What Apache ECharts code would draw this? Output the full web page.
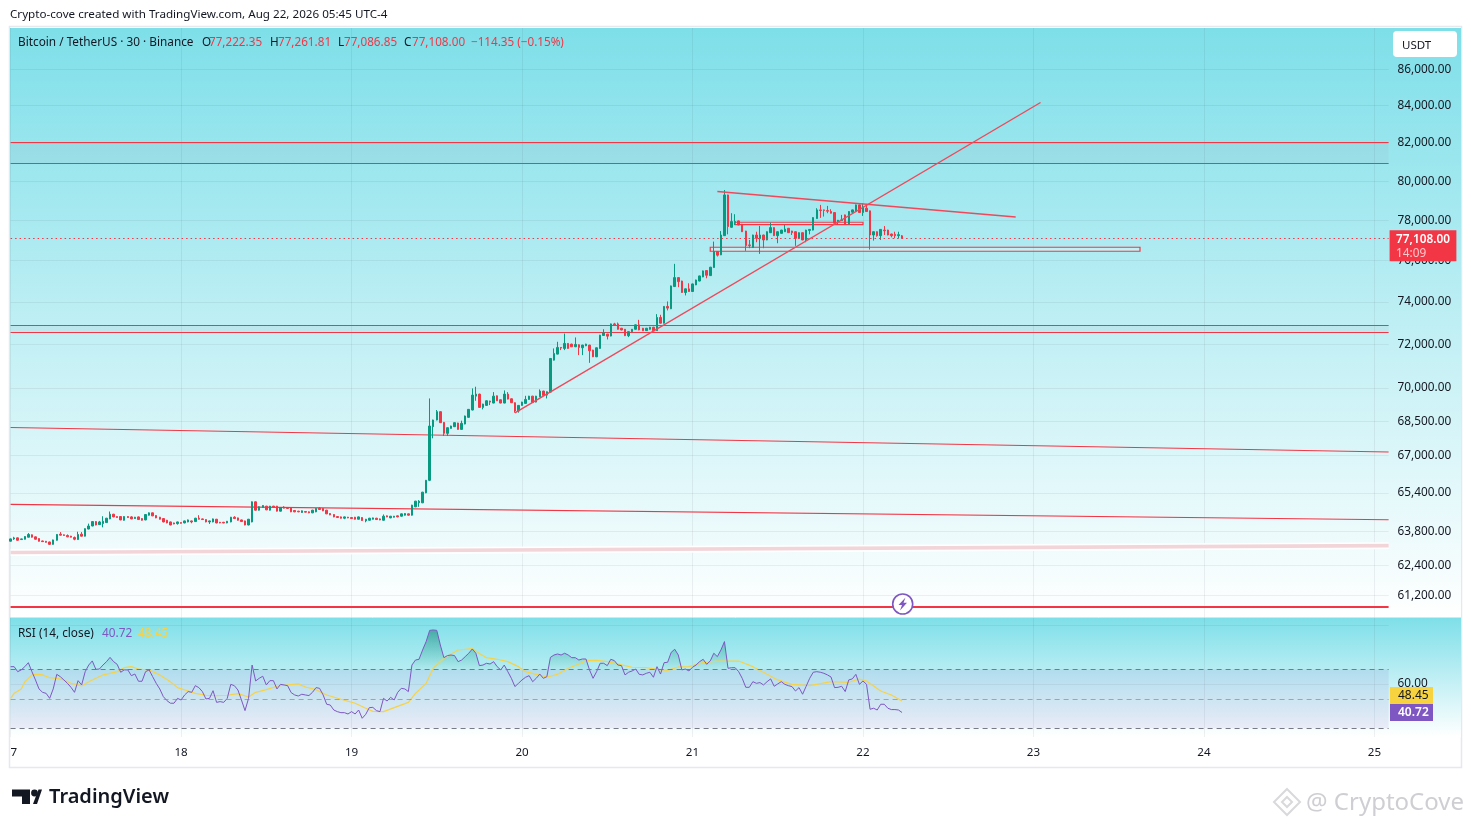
<!DOCTYPE html>
<html><head><meta charset="utf-8">
<style>html,body{margin:0;padding:0;background:#fff}#c{width:1471px;height:827px}</style>
<script src="https://cdn.jsdelivr.net/npm/echarts@6/dist/echarts.min.js"></script>
</head><body><div id="c"></div>
<script>
// ---------- values ----------
const dayLabels=['7','18','19','20','21','22','23','24','25'];
const barsPerDay=48;
const priceTicks=[86000,84000,82000,80000,78000,76000,74000,72000,70000,68500,67000,65400,63800,62400,61200];
const priceMin=60340, priceMax=88326;
const rsiMin=24.1, rsiMax=104.8;
const rsiTicks=[100,60];
const rsiLevels=[70,50,30];
const lastClose=77108.00;
// open, close, low, high of each 30 minute bar
const candles=[
[63390,63485,63375,63500],[63485,63525,63445,63570],[63527,63429,63415,63540],[63457,63485,63445,63495],[63471,63583,63460,63595],[63555,63667,63545,63723],
[63653,63555,63540,63665],[63569,63471,63460,63580],[63499,63387,63375,63510],[63401,63373,63360,63415],[63387,63345,63335,63400],[63359,63261,63250,63370],
[63261,63443,63250,63455],[63429,63667,63415,63680],[63681,63639,63625,63765],[63653,63625,63615,63665],[63625,63569,63555,63667],[63597,63555,63545,63610],
[63541,63471,63429,63583],[63457,63667,63445,63779],[63681,63597,63585,63765],[63597,63905,63585,63920],[63891,64017,63880,64115],[64017,64199,64005,64215],
[64199,64059,64045,64215],[64073,64185,64060,64227],[64115,64213,63961,64423],[64157,64339,64145,64355],[64311,64507,64300,64619],[64507,64395,64380,64520],
[64409,64367,64355,64420],[64409,64269,64255,64420],[64255,64409,64240,64420],[64409,64367,64355,64420],[64395,64311,64300,64423],[64325,64381,64310,64395],
[64395,64283,64270,64410],[64325,64255,64240,64340],[64269,64493,64255,64505],[64465,64563,64450,64580],[64563,64437,64425,64575],[64451,64353,64340,64465],
[64381,64297,64285,64395],[64325,64185,64170,64340],[64255,64143,64130,64270],[64185,64059,64045,64200],[64143,64101,64090,64155],[64115,64185,64073,64199],
[64157,64129,64115,64170],[64143,64227,64130,64240],[64185,64269,64170,64285],[64227,64185,64129,64240],[64199,64339,64185,64355],[64339,64297,64285,64465],
[64311,64283,64270,64325],[64283,64185,64170,64295],[64185,64227,64101,64240],[64185,64311,64170,64325],[64297,64143,64130,64310],[64171,64143,64130,64185],
[64171,64143,64130,64185],[64143,64213,64130,64225],[64185,64381,64170,64395],[64381,64325,64310,64423],[64353,64255,64240,64365],[64269,64199,64185,64280],
[64227,64059,64045,64240],[64059,64297,64045,64310],[64185,65025,64170,65040],[65025,64675,64660,65040],[64675,64815,64660,64830],[64787,64871,64775,64885],
[64843,64689,64675,64855],[64675,64843,64660,64855],[64843,64801,64790,64855],[64843,64633,64620,64855],[64633,64787,64620,64800],[64801,64759,64745,64840],
[64787,64745,64730,64800],[64787,64605,64590,64800],[64661,64605,64590,64675],[64633,64605,64590,64645],[64577,64647,64565,64660],[64619,64591,64580,64630],
[64605,64563,64550,64620],[64563,64675,64550,64690],[64605,64745,64590,64760],[64759,64703,64690,64800],[64745,64647,64635,64760],[64675,64521,64510,64690],
[64535,64479,64465,64550],[64493,64395,64380,64505],[64409,64367,64355,64420],[64395,64339,64325,64410],[64339,64395,64300,64410],[64381,64353,64340,64395],
[64367,64325,64310,64380],[64381,64297,64285,64395],[64297,64395,64285,64410],[64367,64241,64230,64380],[64227,64297,64171,64310],[64255,64339,64240,64355],
[64297,64353,64285,64365],[64339,64283,64270,64355],[64311,64269,64255,64325],[64255,64423,64240,64495],[64437,64395,64380,64450],[64353,64423,64340,64435],
[64381,64423,64370,64435],[64437,64395,64380,64450],[64423,64521,64410,64535],[64465,64535,64450,64550],[64521,64465,64450,64535],[64465,64885,64450,64900],
[64815,65053,64800,65065],[64983,65053,64815,65095],[64983,65431,64970,65445],[65403,65935,65390,65950],[65935,68290,65900,69518],[68260,68556,67750,68570],
[68556,68926,68540,69000],[68926,68438,68425,68940],[68452,67967,67850,68465],[67967,68216,67850,68230],[68186,68290,68175,68305],[68260,68438,68245,68450],
[68423,68142,68130,68435],[68142,68408,68130,68526],[68378,68734,68365,68750],[68674,69030,68660,69045],[69000,69668,68985,69970],[69622,69713,69414,70046],
[69713,69118,69105,69730],[69118,69266,69030,69280],[69207,69414,69195,69430],[69400,69355,69222,69415],[69311,69622,69300,69804],[69637,69414,69400,69650],
[69459,69311,69300,69470],[69311,69713,69300,69880],[69713,69488,69475,69804],[69503,69326,69315,69515],[69326,68956,68882,69340],[68956,69207,68882,69220],
[69207,69355,69195,69370],[69296,69474,69285,69637],[69474,69622,69460,69635],[69622,69340,69325,69635],[69355,69622,69340,69635],[69592,69850,69580,69925],
[69850,69653,69640,69865],[69668,69820,69518,69835],[69804,71338,69790,71355],[71261,71570,71245,71802],[71539,71849,71525,72111],[71849,71818,71725,71865],
[71802,72034,71725,72498],[72034,71802,71790,72050],[72003,71880,71865,72020],[71880,71988,71865,72313],[71972,71849,71492,71990],[71833,71957,71492,71970],
[71926,72003,71910,72020],[71957,71694,71137,71970],[71725,71415,71400,71740],[71415,71833,71400,71850],[71802,72421,71790,72435],[72405,72529,72390,72700],
[72467,72375,72220,72480],[72380,72950,72365,72965],[72950,72905,72890,73000],[72950,72697,72680,73015],[72745,72665,72650,72760],[72697,72395,72380,72710],
[72395,72586,72330,72600],[72586,72697,72570,72710],[72697,72905,72680,72920],[72905,72665,72650,73142],[72745,72633,72620,72760],[72633,72745,72620,72760],
[72697,72792,72680,72810],[72792,72633,72620,72810],[72633,73253,72620,73412],[73253,72983,72970,73380],[72983,73778,72970,73795],[73778,73698,73587,74017],
[73667,74764,73650,74780],[74732,75165,74715,75837],[75165,74971,74700,75180],[75000,74446,74430,75015],[74446,74621,74303,74635],[74621,74494,74480,74891],
[74494,74859,74480,74875],[74812,75050,74800,75065],[75000,75247,74985,75260],[75198,75493,75185,75510],[75509,75280,75132,75525],[75263,75673,75250,75690],
[75657,76444,75645,76936],[76444,76264,76198,76460],[76280,77264,76265,77461],[77232,79290,77220,79543],[79290,77684,77297,79305],[77650,77938,77635,78360],
[77904,77938,77769,78310],[77972,77769,77755,77990],[77803,77428,77415,77820],[77461,76739,76477,77475],[76772,76739,76608,77018],[76641,77264,76630,77280],
[77264,77100,76903,77428],[77084,77264,76329,77722],[77264,77018,76608,77280],[77018,77428,77005,77445],[77379,77634,77365,77887],[77634,77231,77215,77650],
[77231,77428,76854,77445],[77346,77510,77330,77525],[77428,77560,77415,77769],[77600,77379,77365,77615],[77461,77379,77264,77475],[77428,77100,76723,77445],
[77100,77379,77085,77395],[77379,77018,77005,77395],[77018,77510,76903,77525],[77494,77544,77297,77560],[77510,78140,77495,78155],[78090,78529,78075,78614],
[78529,78496,78124,78783],[78529,78496,78191,78545],[78496,78462,78360,78732],[78445,78360,78345,78563],[78394,77853,77840,78410],[77955,78005,77769,78020],
[77988,78022,77970,78276],[78276,77803,77790,78290],[77820,78445,77805,78460],[78412,78529,78360,78545],[78445,78783,78430,78800],[78783,78394,78380,78800],
[78394,78664,78225,78867],[78614,78445,78430,78833],[78479,77264,76541,78495],[77264,77428,76985,77445],[77428,77231,77182,77445],[77231,77544,77018,77560],
[77510,77477,77264,77712],[77510,77264,77250,77525],[77313,77231,77149,77330],[77297,77231,77100,77428],[77231,77281,77100,77428],[77222.35,77108,77086.85,77261.81]
];
const rsi=[
71.8,71.8,68.4,69.6,71.8,74.5,68.4,62.8,56.7,54.4,53.7,50.3,56.7,66.6,65.0,62.8,60.5,57.8,54.4,62.3,59.4,68.4,72.9,75.7,70.0,70.2,72.9,75.2,78.1,75.2,
73.4,68.0,69.6,69.6,65.7,66.8,61.9,61.9,68.4,69.6,65.0,60.5,56.7,51.5,48.8,47.0,47.0,50.3,49.2,52.6,54.9,54.4,58.9,57.6,54.9,49.9,50.3,55.5,47.6,48.1,
47.6,50.3,59.8,58.9,56.0,49.2,42.0,50.3,72.9,62.1,63.9,65.3,59.4,62.3,62.3,56.7,59.8,59.4,58.9,54.2,52.6,51.9,53.1,52.6,52.2,54.4,57.6,57.1,52.6,46.3,
45.8,42.4,41.3,40.6,40.6,39.7,41.3,39.7,42.4,36.8,39.5,44.0,44.2,42.0,41.3,50.3,48.5,51.0,49.2,54.4,57.1,56.7,54.9,72.9,76.3,76.8,83.1,88.8,96.4,96.7,
96.4,86.5,77.9,79.3,79.7,79.3,75.2,76.3,78.6,80.9,83.8,80.9,72.5,72.9,74.1,73.6,75.2,71.8,69.6,72.9,68.4,63.9,58.3,60.5,62.8,64.6,65.7,61.6,63.9,66.8,
63.9,65.0,78.1,79.7,80.4,79.7,80.9,79.7,77.9,77.9,76.3,77.0,77.0,69.6,63.9,68.4,74.1,74.1,72.5,76.8,75.9,72.9,72.5,66.2,68.0,68.9,70.2,66.6,66.2,67.3,
68.0,64.6,71.8,66.8,74.5,74.8,81.5,83.6,79.7,69.6,70.2,68.9,71.4,72.9,75.2,76.8,73.4,75.7,80.9,78.6,83.1,88.8,70.7,71.1,71.1,68.4,63.9,57.8,57.8,61.6,
60.5,61.0,59.4,61.6,63.5,58.5,60.1,61.6,59.8,58.9,58.3,55.3,57.6,53.1,58.5,63.9,68.0,68.4,68.0,67.3,66.2,64.8,57.6,57.8,58.5,54.9,62.8,63.5,66.6,59.8,
62.1,59.8,42.9,43.6,42.4,46.3,46.3,43.6,42.7,42.7,42.4,40.72
];
// [bar, value] pairs read along the yellow average
const rsiMA=[
[0,50.3],[1,53.7],[3,56.7],[4,61.6],[6,66.2],[8,66.6],[9,66.2],[11,64.3],[13,63.9],[15,62.8],[17,60.5],[19,59.4],[20,58.7],[22,61.6],[24,63.9],[26,66.2],[28,67.3],[30,68.4],[32,71.1],[34,71.8],
[36,70.2],[39,69.5],[42,66.2],[45,61.6],[47,57.6],[50,55.3],[52,53.7],[55,52.4],[58,52.1],[61,52.4],[64,53.5],[67,51.2],[69,54.4],[72,56.2],[75,58.5],[77,59.2],[81,60.1],[83,58.0],[86,56.2],[89,52.6],
[93,49.7],[97,47.0],[100,43.6],[102,41.5],[105,41.3],[108,44.0],[112,47.6],[114,53.7],[117,60.5],[119,70.7],[122,77.5],[126,83.1],[130,84.0],[132,80.8],[134,77.9],[137,76.8],[140,75.2],[143,71.8],[145,68.4],[148,66.6],
[151,64.8],[154,66.6],[157,70.7],[160,73.6],[162,75.9],[165,76.1],[168,75.2],[172,73.0],[175,71.4],[179,71.1],[182,70.0],[185,69.3],[188,71.6],[191,71.8],[195,74.5],[199,75.6],[205,75.6],[209,71.8],[213,66.6],[216,62.8],
[220,59.8],[225,58.9],[231,61.6],[236,61.2],[239,63.4],[241,62.1],[245,55.3],[248,52.6],[251,48.45]
];
// trend lines: [[bar, price],[bar, price]]
const levelLines=[
 [[0,82026],[388,82026]],
 [[0,80921],[388,80921]],
 [[0,72877],[388,72877]],
 [[0,72548],[388,72548]],
 [[0,68227],[388,67156]],
 [[0,64916],[388,64277]]
];
const patternLines=[
 [[142,68870],[290,84174]],
 [[199,79469],[283,78170]]
];
const paleBand=[[0,62931],[388,63208]];
const floorLine=[[0,60755],[388,60755]];
// shaded zones: [bar from, price top, bar to, price bottom]
const zones=[
 [0,82026,388,80921],
 [0,72877,388,72548]
];
// small outlined boxes: [bar from, price top, bar to, price bottom]
const boxes=[
 [204,77903,240,77782],
 [197,76655,318,76456]
];
const headerPieces=[
 ['Bitcoin / TetherUS · 30 · Binance',18,'#131722'],['O',202,'#131722'],['77,222.35',209,'#f23645'],['H',270,'#131722'],['77,261.81',278,'#f23645'],
 ['L',338,'#131722'],['77,086.85',344,'#f23645'],['C',404,'#131722'],['77,108.00',412,'#f23645'],['−114.35 (−0.15%)',471,'#f23645']
];
// ---------- chart ----------
const FONT='"Noto Sans"';
const UP='#089981',DOWN='#f23645',PURPLE='#7e57c2',YELLOW='#f7d247';
const GRID='rgba(42,46,57,0.07)';
const slots=8*barsPerDay+4;
const categories=Array.from({length:slots+1},(_,i)=>i%barsPerDay===0?(dayLabels[i/barsPerDay]||''):'');
const isDay=i=>i%barsPerDay===0;
const bg=(y,h)=>({type:'rect',silent:true,z:-10,shape:{x:10,y:y,width:1451,height:h},style:{fill:new echarts.graphic.LinearGradient(0,0,0,1,[{offset:0,color:'#7edfe9'},{offset:1,color:'#ffffff'}])}});
const txt=(s,x,y,size,fill,extra)=>({type:'text',z:20,silent:true,x:x,y:y,style:Object.assign({text:s,fill:fill,font:size+'px '+FONT,textVerticalAlign:'middle',verticalAlign:'middle'},extra||{})});
const graphics=[
 {type:'rect',silent:true,z:-11,shape:{x:9.5,y:26.5,width:1452,height:741},style:{fill:'#fff',stroke:'#e6e8ee',lineWidth:1.5}},
 bg(28,589.5),bg(618,119),
 {type:'line',silent:true,z:-9,shape:{x1:10,y1:617.5,x2:1461,y2:617.5},style:{stroke:'#dfe3e8',lineWidth:1}},
 txt('Crypto-cove created with TradingView.com, Aug 22, 2026 05:45 UTC-4',10,15,11.65,'#131722'),
 {type:'rect',z:20,silent:true,shape:{x:1393,y:31,width:64,height:26,r:4},style:{fill:'#fff'}},
 txt('USDT',1402,45.5,11.5,'#131722'),
 txt('RSI (14, close)',18,633.5,11.8,'#131722'),
 txt('40.72',102,633.5,11.8,PURPLE),
 txt('48.45',138,633.5,11.8,YELLOW),
 {type:'rect',z:20,silent:true,shape:{x:1390,y:687,width:43,height:17},style:{fill:'#f7d33f'}},
 txt('48.45',1398,696,12,'#131722'),
 {type:'rect',z:20,silent:true,shape:{x:1390,y:704,width:43,height:17},style:{fill:PURPLE}},
 txt('40.72',1398,713,12,'#ffffff',{font:'600 12px '+FONT}),
 {type:'circle',z:20,silent:true,shape:{cx:902.7,cy:604,r:10},style:{fill:'#fff',stroke:PURPLE,lineWidth:1.6}},
 {type:'polygon',z:21,silent:true,shape:{points:[[905.5,597.5],[898.5,605],[902,605],[900,610.5],[907,602.7],[903.5,602.7]]},style:{fill:PURPLE}},
 // TradingView mark
 {type:'polygon',z:20,silent:true,shape:{points:[[12,789.5],[30,789.5],[30,804],[22,804],[22,796.5],[12,796.5]]},style:{fill:'#131722'}},
 {type:'circle',z:20,silent:true,shape:{cx:34.5,cy:793,r:3.4},style:{fill:'#131722'}},
 {type:'polygon',z:20,silent:true,shape:{points:[[33,804],[38.5,789.5],[42,789.5],[37,804]]},style:{fill:'#131722'}},
 txt('TradingView',49,797,20,'#131722',{font:'600 20px '+FONT}),
 // watermark
 {type:'polygon',z:20,silent:true,shape:{points:[[1287,789],[1300,802],[1287,815],[1274,802]]},style:{fill:'none',stroke:'#d9d9dc',lineWidth:2}},
 {type:'polygon',z:20,silent:true,shape:{points:[[1287,797],[1292,802],[1287,807],[1282,802]]},style:{fill:'none',stroke:'#d9d9dc',lineWidth:2}},
 txt('@ CryptoCove',1306,803,24,'#cfcfd3')
];
headerPieces.forEach(p=>graphics.push(txt(p[0],p[1],42.5,p[0].length>20?11.8:11.7,p[2])));
const baseLine=(data,color,width,z)=>({type:'line',data:data,xAxisIndex:0,yAxisIndex:0,symbol:'none',silent:true,z:z,animation:false,lineStyle:{color:color,width:width}});
const series=[
 {type:'candlestick',name:'BTCUSDT',xAxisIndex:0,yAxisIndex:0,data:candles,barWidth:2,z:4,silent:true,animation:false,
  itemStyle:{color:UP,color0:DOWN,borderColor:UP,borderColor0:DOWN,borderWidth:1},
  markLine:{silent:true,symbol:'none',animation:false,z:5,
   lineStyle:{color:DOWN,type:[1.5,3],width:1.2},
   data:[{yAxis:lastClose,
    label:{show:true,position:'end',distance:1,offset:[0,7.5],backgroundColor:DOWN,padding:[2,6.5,1,6.5],
     formatter:'{a|77,108.00}\n{b|14:09}',
     rich:{a:{color:'#fff',fontFamily:FONT,fontWeight:600,fontSize:11.8,lineHeight:14},b:{color:'rgba(255,255,255,0.72)',fontFamily:FONT,fontSize:11.8,lineHeight:14}}}}]}},
 {type:'line',name:'zones',xAxisIndex:0,yAxisIndex:0,data:[],symbol:'none',silent:true,animation:false,z:1,
  markArea:{silent:true,animation:false,itemStyle:{color:'rgba(150,130,140,0.07)',opacity:1,borderWidth:0},
   data:zones.map(b=>[{xAxis:b[0],yAxis:b[1]},{xAxis:b[2],yAxis:b[3]}])}},
 {type:'line',name:'boxes',xAxisIndex:0,yAxisIndex:0,data:[],symbol:'none',silent:true,animation:false,z:3,
  markArea:{silent:true,animation:false,itemStyle:{color:'rgba(255,255,255,0.25)',opacity:1,borderColor:DOWN,borderWidth:1.2},
   data:boxes.map(b=>[{xAxis:b[0],yAxis:b[1]},{xAxis:b[2],yAxis:b[3]}])}},
 baseLine(paleBand,'#ffffff',7,2),
 baseLine(paleBand,'#f2d5d9',3.6,2),
 baseLine(floorLine,DOWN,2,3)
];
levelLines.forEach(l=>series.push(baseLine(l,DOWN,1.1,3)));
patternLines.forEach(l=>series.push(baseLine(l,'#f0485a',1.4,5)));
series.push(
 {type:'line',xAxisIndex:1,yAxisIndex:1,data:rsi.map(v=>Math.max(v,rsiLevels[0])),symbol:'none',silent:true,animation:false,z:2,
  lineStyle:{width:0},
  areaStyle:{origin:rsiLevels[0],color:new echarts.graphic.LinearGradient(0,0,0,1,[{offset:0,color:'rgba(8,120,100,0.75)'},{offset:1,color:'rgba(8,153,129,0.05)'}])}},
 {type:'line',xAxisIndex:1,yAxisIndex:1,data:rsi,symbol:'none',silent:true,animation:false,z:4,lineStyle:{color:PURPLE,width:1},
  markLine:{silent:true,symbol:'none',animation:false,label:{show:false},
   data:rsiLevels.map((v,i)=>({yAxis:v,lineStyle:{color:i===1?'rgba(120,123,134,0.6)':'#787b86',type:[5,4],width:1}}))},
  markArea:{silent:true,animation:false,itemStyle:{color:'rgba(126,87,194,0.1)',opacity:1},
   data:[[{yAxis:rsiLevels[0]},{yAxis:rsiLevels[2]}]]}},
 {type:'line',xAxisIndex:1,yAxisIndex:1,data:rsiMA,symbol:'none',silent:true,animation:false,z:3,lineStyle:{color:YELLOW,width:1.2}}
);
const xAxisBase={type:'category',data:categories,boundaryGap:false,
 axisLine:{show:false},axisTick:{show:false},
 splitLine:{show:true,interval:isDay,lineStyle:{color:GRID,width:1}}};
const chart=echarts.init(document.getElementById('c'),null,{renderer:'canvas',width:1471,height:827});
chart.setOption({
 animation:false,backgroundColor:'#ffffff',
 grid:[{left:10.6,top:28,width:1378,height:589.5},{left:10.6,top:618,width:1378,height:119}],
 xAxis:[
  Object.assign({},xAxisBase,{gridIndex:0,axisLabel:{show:false}}),
  Object.assign({},xAxisBase,{gridIndex:1,axisLabel:{show:true,interval:isDay,alignMinLabel:'left',margin:10,color:'#131722',fontFamily:FONT,fontSize:11.6,hideOverlap:false,showMinLabel:true}})
 ],
 yAxis:[
  {type:'log',gridIndex:0,position:'right',min:priceMin,max:priceMax,scale:true,
   axisLine:{show:false},axisTick:{show:false,customValues:priceTicks},
   axisLabel:{show:true,customValues:priceTicks,margin:9,color:'#131722',fontFamily:FONT,fontSize:11.8,hideOverlap:false,showMinLabel:true,showMaxLabel:true,
    formatter:v=>Number(v).toLocaleString('en-US',{minimumFractionDigits:2,maximumFractionDigits:2})},
   splitLine:{show:true,lineStyle:{color:GRID,width:1}}},
  {type:'value',gridIndex:1,position:'right',min:rsiMin,max:rsiMax,
   axisLine:{show:false},axisTick:{show:false,customValues:rsiTicks},
   axisLabel:{show:true,customValues:rsiTicks,margin:9,color:'#131722',fontFamily:FONT,fontSize:11.8,showMinLabel:true,showMaxLabel:true,
    formatter:v=>Math.round(v)===60?'60.00':''},
   splitLine:{show:true,lineStyle:{color:GRID,width:1}}}
 ],
 graphic:{elements:graphics},
 series:series
});
</script></body></html>
